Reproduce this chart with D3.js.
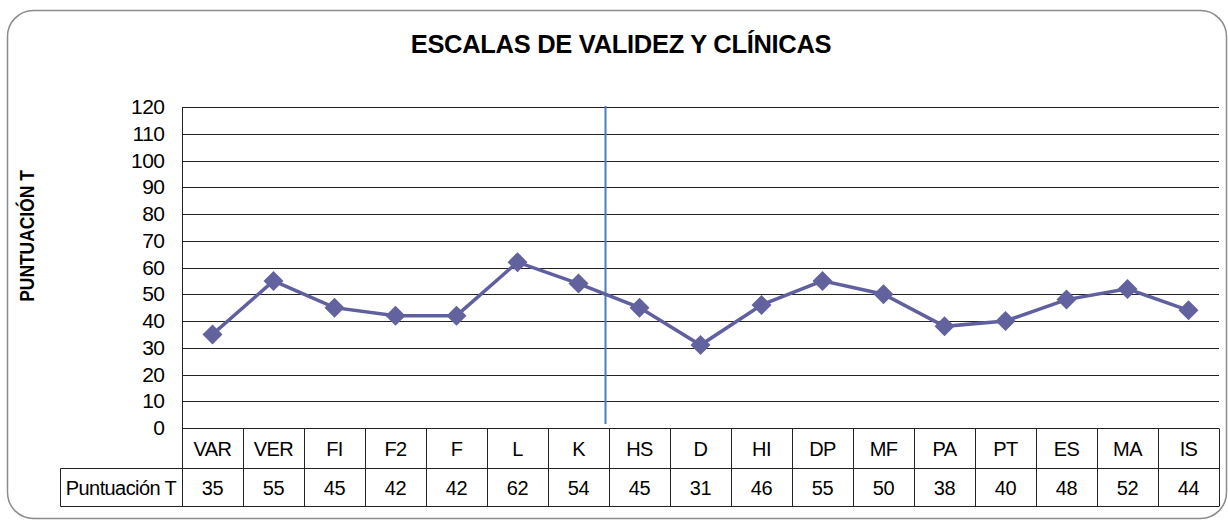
<!DOCTYPE html>
<html><head><meta charset="utf-8">
<script src="https://cdn.jsdelivr.net/npm/d3@7"></script>
<style>body{margin:0;background:#fff}svg{display:block;font-family:"Liberation Sans",Arial,sans-serif}</style>
</head><body><svg id="c" width="1228" height="521"></svg>
<script>
const categories = ["VAR","VER","FI","F2","F","L","K","HS","D","HI","DP","MF","PA","PT","ES","MA","IS"];
const values = [35,55,45,42,42,62,54,45,31,46,55,50,38,40,48,52,44];
const yTicks = [0,10,20,30,40,50,60,70,80,90,100,110,120];
const title = "ESCALAS DE VALIDEZ Y CLÍNICAS";
const yLabel = "PUNTUACIÓN T";
const rowLabel = "Puntuación T";

const svg = d3.select("#c");
const L = 182, R = 1219, T = 107, B = 428;
const x = d3.scaleBand().domain(categories).range([L, R]);
const y = d3.scaleLinear().domain([0, 120]).range([B, T]);

svg.append("rect").attr("x",7.5).attr("y",10.5).attr("width",1219).attr("height",508)
  .attr("rx",26).attr("fill","#fff").attr("stroke","#8c8c8c").attr("stroke-width",1.5);

svg.append("text").attr("x",621).attr("y",53).attr("text-anchor","middle")
  .attr("font-size",25.5).attr("font-weight","bold").attr("letter-spacing",-0.3).text(title);

svg.append("text").attr("transform","translate(34,236) rotate(-90) scale(0.85,1)").attr("text-anchor","middle")
  .attr("font-size",20.5).attr("font-weight","bold").text(yLabel);

// gridlines
svg.append("g").selectAll("line").data(yTicks).join("line")
  .attr("x1",L).attr("x2",R).attr("y1",d=>Math.round(y(d))+0.5).attr("y2",d=>Math.round(y(d))+0.5)
  .attr("stroke","#222").attr("stroke-width",1);

// y axis
const ya = svg.append("g").attr("transform",`translate(${L+0.5},0)`)
  .call(d3.axisLeft(y).tickValues(yTicks).tickSize(0).tickPadding(18));
ya.select(".domain").attr("stroke","#222").attr("d",`M0,${T}V${B+0.5}`);
ya.selectAll("text").attr("font-size",21).attr("fill","#000").attr("letter-spacing",-0.5)
  .attr("font-family","Liberation Sans, Arial, sans-serif");

// table
const rowTop = B + 0.5, row1 = 468.5, row2 = 506.5;
const tg = svg.append("g").attr("stroke","#222").attr("stroke-width",1);
tg.append("line").attr("x1",60.5).attr("x2",R).attr("y1",row1).attr("y2",row1);
tg.append("line").attr("x1",60.5).attr("x2",R).attr("y1",row2).attr("y2",row2);
tg.append("line").attr("x1",60.5).attr("x2",60.5).attr("y1",row1).attr("y2",row2);
const bounds = categories.map(c=>x(c)).concat([R]);
tg.selectAll("line.v").data(bounds).join("line").attr("class","v")
  .attr("x1",d=>Math.round(d)+0.5).attr("x2",d=>Math.round(d)+0.5)
  .attr("y1",rowTop).attr("y2",row2);

svg.append("g").selectAll("text").data(categories).join("text")
  .attr("x",d=>x(d)+x.bandwidth()/2).attr("y",455.5).attr("text-anchor","middle")
  .attr("font-size",20).attr("letter-spacing",-0.6).text(d=>d);
svg.append("g").selectAll("text").data(values).join("text")
  .attr("x",(d,i)=>x(categories[i])+x.bandwidth()/2).attr("y",494.5).attr("text-anchor","middle")
  .attr("font-size",20).attr("letter-spacing",-0.3).text(d=>d);
svg.append("text").attr("x",121).attr("y",494.5).attr("text-anchor","middle").attr("font-size",20)
  .attr("letter-spacing",-0.6).text(rowLabel);

// separator line
const sepX = x("HS") - 3.5;
svg.append("line").attr("x1",sepX).attr("x2",sepX).attr("y1",T-1).attr("y2",B-4)
  .attr("stroke","#4a7ebb").attr("stroke-width",2);

// series
const pts = values.map((v,i)=>[x(categories[i])+x.bandwidth()/2, y(v)]);
svg.append("path").attr("d",d3.line()(pts)).attr("fill","none")
  .attr("stroke","#6060a0").attr("stroke-width",3.5);
svg.append("g").selectAll("path").data(pts).join("path")
  .attr("transform",d=>`translate(${d[0]},${d[1]})`)
  .attr("d","M0,-10L10,0L0,10L-10,0Z").attr("fill","#62629e");
</script></body></html>
